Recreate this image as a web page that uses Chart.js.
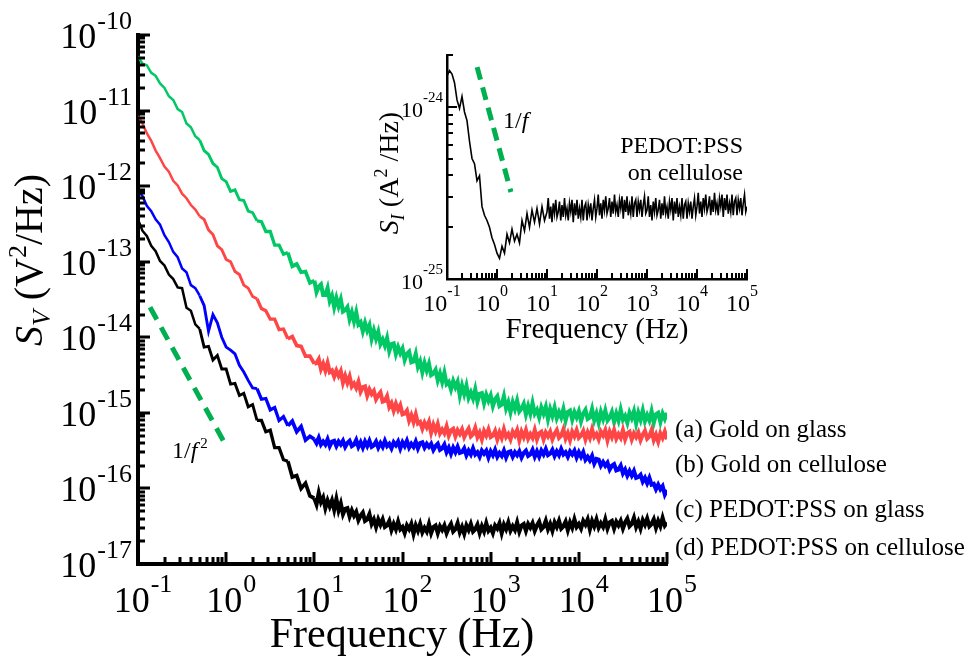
<!DOCTYPE html>
<html>
<head>
<meta charset="utf-8">
<title>Noise spectra</title>
<script src="https://cdn.jsdelivr.net/npm/chart.js@4.4.1/dist/chart.umd.min.js"></script>
<style>
	html, body { margin: 0; padding: 0; background: #fff; }
	#wrap { position: relative; width: 967px; height: 664px; }
	#wrap canvas { position: absolute; left: 0; top: 0; }
</style>
</head>
<body>
<div id="wrap">
	<canvas id="main" width="967" height="664"></canvas>
	<canvas id="inset" width="967" height="664"></canvas>
</div>
<script>
// frequency grid: 20 points per decade below 10 Hz, 40 per decade above, up to 100 kHz
var lowSteps = [1, 1.122, 1.259, 1.413, 1.585, 1.778, 1.995, 2.239, 2.512, 2.818,
	3.162, 3.548, 3.981, 4.467, 5.012, 5.623, 6.310, 7.079, 7.943, 8.913];
var highSteps = [1, 1.059, 1.122, 1.189, 1.259, 1.334, 1.413, 1.496, 1.585, 1.679,
	1.778, 1.884, 1.995, 2.113, 2.239, 2.371, 2.512, 2.661, 2.818, 2.985,
	3.162, 3.350, 3.548, 3.758, 3.981, 4.217, 4.467, 4.732, 5.012, 5.309,
	5.623, 5.957, 6.310, 6.683, 7.079, 7.499, 7.943, 8.414, 8.913, 9.441];
var lowDecades = [0.1, 1];
var highDecades = [10, 100, 1000, 10000];
var lastFreq = 1e5;

// log10 of S_V (V^2/Hz), one value per grid point
var goldGlassLog = [
	-10.28, -10.38, -10.40, -10.50, -10.54, -10.64, -10.70, -10.81, -10.86, -10.98,
	-11.02, -11.17, -11.22, -11.34, -11.39, -11.53, -11.58, -11.70, -11.75, -11.90,
	-11.94, -12.07, -12.05, -12.18, -12.19, -12.33, -12.35, -12.46, -12.47, -12.60,
	-12.60, -12.78, -12.78, -12.90, -12.88, -13.06, -13.03, -13.14, -13.13, -13.28,
	// 10 Hz and up
	-13.25, -13.40, -13.33, -13.30, -13.44, -13.44, -13.35, -13.52, -13.45, -13.60,
	-13.48, -13.59, -13.50, -13.66, -13.64, -13.60, -13.76, -13.67, -13.79, -13.67,
	-13.83, -13.80, -13.92, -13.81, -13.91, -13.84, -14.02, -13.91, -14.02, -13.93,
	-14.09, -14.03, -14.11, -14.01, -14.18, -14.09, -14.08, -14.22, -14.13, -14.21,
	-14.15, -14.30, -14.22, -14.19, -14.33, -14.32, -14.22, -14.39, -14.32, -14.46,
	-14.34, -14.44, -14.35, -14.50, -14.48, -14.43, -14.57, -14.48, -14.59, -14.47,
	-14.62, -14.59, -14.69, -14.58, -14.66, -14.59, -14.77, -14.64, -14.75, -14.64,
	-14.80, -14.73, -14.81, -14.69, -14.85, -14.75, -14.74, -14.87, -14.76, -14.84,
	-14.77, -14.91, -14.82, -14.78, -14.91, -14.89, -14.78, -14.94, -14.86, -14.99,
	-14.86, -14.95, -14.84, -14.98, -14.94, -14.88, -15.02, -14.91, -15.01, -14.87,
	-15.01, -14.96, -15.06, -14.93, -15.01, -14.92, -15.08, -14.95, -15.04, -14.93,
	-15.07, -14.99, -15.06, -14.95, -15.10, -14.99, -14.97, -15.09, -14.99, -15.06,
	-14.98, -15.11, -15.01, -14.96, -15.08, -15.06, -14.95, -15.10, -15.01, -15.13,
	-14.99, -15.08, -14.97, -15.10, -15.06, -14.99, -15.12, -15.01, -15.10, -14.96,
	-15.09, -15.04, -15.13, -15.00, -15.07, -14.98, -15.14, -15.00, -15.09, -14.97,
	-15.11, -15.03, -15.10, -14.98, -15.13, -15.02, -15.00, -15.12, -15.01, -15.08,
	-15.00
];
var goldCelluloseLog = [
	-11.07, -11.17, -11.30, -11.40, -11.53, -11.63, -11.74, -11.81, -11.93, -11.99,
	-12.10, -12.16, -12.25, -12.31, -12.40, -12.44, -12.58, -12.64, -12.79, -12.84,
	-12.97, -13.00, -13.13, -13.17, -13.31, -13.35, -13.46, -13.49, -13.62, -13.65,
	-13.76, -13.76, -13.90, -13.89, -14.02, -13.99, -14.11, -14.12, -14.25, -14.25,
	// 10 Hz and up
	-14.35, -14.34, -14.29, -14.42, -14.35, -14.44, -14.34, -14.46, -14.44, -14.52,
	-14.44, -14.51, -14.45, -14.60, -14.51, -14.60, -14.52, -14.65, -14.61, -14.67,
	-14.59, -14.72, -14.66, -14.65, -14.77, -14.69, -14.75, -14.71, -14.82, -14.77,
	-14.73, -14.85, -14.84, -14.78, -14.92, -14.87, -14.97, -14.88, -14.96, -14.90,
	-15.02, -15.01, -14.97, -15.10, -15.03, -15.12, -15.02, -15.14, -15.12, -15.21,
	-15.13, -15.19, -15.12, -15.26, -15.16, -15.24, -15.15, -15.27, -15.22, -15.27,
	-15.18, -15.30, -15.23, -15.21, -15.31, -15.23, -15.28, -15.22, -15.32, -15.26,
	-15.21, -15.31, -15.28, -15.20, -15.32, -15.26, -15.35, -15.24, -15.30, -15.22,
	-15.32, -15.30, -15.24, -15.35, -15.26, -15.33, -15.22, -15.32, -15.28, -15.35,
	-15.25, -15.30, -15.23, -15.36, -15.25, -15.32, -15.23, -15.34, -15.28, -15.33,
	-15.23, -15.35, -15.27, -15.25, -15.35, -15.26, -15.31, -15.25, -15.35, -15.28,
	-15.23, -15.33, -15.30, -15.22, -15.34, -15.27, -15.36, -15.25, -15.31, -15.23,
	-15.33, -15.30, -15.24, -15.35, -15.26, -15.33, -15.22, -15.32, -15.28, -15.35,
	-15.25, -15.30, -15.23, -15.36, -15.25, -15.32, -15.23, -15.34, -15.28, -15.33,
	-15.23, -15.35, -15.27, -15.25, -15.35, -15.27, -15.32, -15.26, -15.36, -15.29,
	-15.24, -15.34, -15.31, -15.23, -15.36, -15.29, -15.38, -15.27, -15.33, -15.25,
	-15.35
];
var pedotGlassLog = [
	-12.06, -12.13, -12.26, -12.33, -12.44, -12.51, -12.65, -12.74, -12.87, -12.94,
	-13.09, -13.14, -13.31, -13.35, -13.45, -13.58, -13.92, -13.70, -13.81, -14.00,
	-14.13, -14.17, -14.22, -14.37, -14.46, -14.57, -14.67, -14.68, -14.82, -14.81,
	-14.96, -14.93, -15.10, -15.05, -15.17, -15.11, -15.25, -15.18, -15.36, -15.31,
	// 10 Hz and up
	-15.35, -15.40, -15.33, -15.42, -15.38, -15.42, -15.35, -15.44, -15.38, -15.37,
	-15.44, -15.38, -15.42, -15.37, -15.45, -15.40, -15.37, -15.44, -15.42, -15.36,
	-15.45, -15.39, -15.46, -15.38, -15.44, -15.37, -15.45, -15.43, -15.38, -15.46,
	-15.40, -15.45, -15.37, -15.44, -15.41, -15.47, -15.39, -15.43, -15.38, -15.47,
	-15.39, -15.44, -15.37, -15.46, -15.41, -15.45, -15.38, -15.47, -15.40, -15.39,
	-15.46, -15.41, -15.45, -15.41, -15.49, -15.44, -15.41, -15.49, -15.47, -15.42,
	-15.52, -15.46, -15.54, -15.46, -15.52, -15.45, -15.53, -15.52, -15.47, -15.56,
	-15.50, -15.55, -15.47, -15.55, -15.52, -15.58, -15.50, -15.54, -15.50, -15.59,
	-15.51, -15.56, -15.49, -15.58, -15.53, -15.57, -15.50, -15.59, -15.52, -15.51,
	-15.58, -15.52, -15.56, -15.51, -15.59, -15.53, -15.50, -15.57, -15.55, -15.49,
	-15.58, -15.51, -15.58, -15.50, -15.55, -15.48, -15.56, -15.54, -15.49, -15.57,
	-15.51, -15.56, -15.48, -15.55, -15.52, -15.58, -15.51, -15.55, -15.50, -15.59,
	-15.52, -15.58, -15.52, -15.62, -15.58, -15.63, -15.57, -15.67, -15.61, -15.62,
	-15.70, -15.65, -15.70, -15.66, -15.75, -15.70, -15.68, -15.76, -15.75, -15.70,
	-15.80, -15.75, -15.83, -15.77, -15.83, -15.77, -15.86, -15.85, -15.82, -15.91,
	-15.86, -15.93, -15.86, -15.95, -15.94, -16.01, -15.95, -16.01, -15.97, -16.08,
	-16.02
];
var pedotCelluloseLog = [
	-12.44, -12.59, -12.66, -12.79, -12.86, -12.99, -13.05, -13.17, -13.23, -13.34,
	-13.35, -13.61, -13.65, -13.83, -13.89, -14.13, -14.12, -14.30, -14.24, -14.42,
	-14.42, -14.62, -14.61, -14.77, -14.74, -14.92, -14.89, -15.10, -15.10, -15.25,
	-15.23, -15.46, -15.46, -15.62, -15.64, -15.85, -15.83, -16.00, -15.93, -16.10,
	// 10 Hz and up
	-16.13, -16.21, -16.06, -16.18, -16.12, -16.26, -16.16, -16.24, -16.16, -16.28,
	-16.14, -16.29, -16.20, -16.34, -16.27, -16.26, -16.37, -16.29, -16.36, -16.31,
	-16.42, -16.36, -16.32, -16.43, -16.41, -16.34, -16.47, -16.41, -16.51, -16.41,
	-16.48, -16.41, -16.51, -16.49, -16.43, -16.55, -16.47, -16.54, -16.44, -16.54,
	-16.51, -16.59, -16.49, -16.54, -16.47, -16.60, -16.49, -16.56, -16.47, -16.58,
	-16.52, -16.57, -16.47, -16.59, -16.51, -16.49, -16.59, -16.50, -16.55, -16.49,
	-16.59, -16.52, -16.47, -16.57, -16.54, -16.46, -16.58, -16.51, -16.60, -16.49,
	-16.55, -16.47, -16.57, -16.54, -16.48, -16.59, -16.50, -16.57, -16.46, -16.56,
	-16.52, -16.59, -16.49, -16.53, -16.46, -16.59, -16.48, -16.54, -16.45, -16.56,
	-16.50, -16.55, -16.45, -16.57, -16.49, -16.47, -16.56, -16.47, -16.52, -16.46,
	-16.56, -16.49, -16.44, -16.54, -16.51, -16.43, -16.54, -16.47, -16.56, -16.45,
	-16.51, -16.43, -16.53, -16.50, -16.44, -16.55, -16.45, -16.52, -16.41, -16.51,
	-16.47, -16.53, -16.43, -16.48, -16.41, -16.54, -16.43, -16.50, -16.41, -16.52,
	-16.46, -16.51, -16.41, -16.53, -16.45, -16.43, -16.53, -16.44, -16.49, -16.43,
	-16.53, -16.45, -16.40, -16.50, -16.47, -16.39, -16.51, -16.44, -16.53, -16.42,
	-16.48, -16.40, -16.50, -16.47, -16.41, -16.52, -16.43, -16.50, -16.39, -16.49,
	-16.45
];

// log10 of S_I (A^2/Hz) for the inset, PEDOT:PSS on cellulose
var insetLog = [
	-23.82, -23.79, -23.81, -23.86, -23.96, -24.01, -23.94, -24.03, -24.08, -24.20,
	-24.30, -24.33, -24.43, -24.40, -24.58, -24.63, -24.66, -24.70, -24.76, -24.80,
	-24.85, -24.88, -24.81, -24.85, -24.74, -24.79, -24.71, -24.78, -24.74, -24.79,
	-24.66, -24.72, -24.62, -24.70, -24.60, -24.67, -24.59, -24.68, -24.58, -24.66,
	// 10 Hz and up
	-24.61, -24.53, -24.65, -24.58, -24.67, -24.56, -24.62, -24.54, -24.64, -24.61,
	-24.55, -24.66, -24.57, -24.64, -24.53, -24.63, -24.59, -24.66, -24.56, -24.61,
	-24.54, -24.67, -24.56, -24.63, -24.54, -24.65, -24.59, -24.64, -24.54, -24.66,
	-24.58, -24.56, -24.66, -24.57, -24.62, -24.56, -24.66, -24.59, -24.54, -24.64,
	-24.59, -24.51, -24.63, -24.56, -24.65, -24.54, -24.60, -24.52, -24.62, -24.59,
	-24.53, -24.64, -24.55, -24.62, -24.51, -24.61, -24.57, -24.64, -24.54, -24.59,
	-24.52, -24.65, -24.54, -24.61, -24.52, -24.63, -24.57, -24.62, -24.52, -24.64,
	-24.56, -24.54, -24.64, -24.55, -24.60, -24.54, -24.64, -24.57, -24.52, -24.62,
	-24.60, -24.52, -24.64, -24.57, -24.66, -24.55, -24.61, -24.53, -24.63, -24.60,
	-24.54, -24.65, -24.56, -24.63, -24.52, -24.62, -24.58, -24.65, -24.55, -24.60,
	-24.53, -24.66, -24.55, -24.62, -24.53, -24.64, -24.58, -24.63, -24.53, -24.65,
	-24.57, -24.55, -24.65, -24.56, -24.61, -24.55, -24.65, -24.58, -24.53, -24.63,
	-24.58, -24.50, -24.62, -24.55, -24.64, -24.53, -24.59, -24.51, -24.61, -24.58,
	-24.52, -24.63, -24.54, -24.61, -24.50, -24.60, -24.56, -24.63, -24.53, -24.58,
	-24.51, -24.64, -24.53, -24.60, -24.51, -24.62, -24.56, -24.61, -24.51, -24.63,
	-24.55, -24.53, -24.63, -24.54, -24.59, -24.53, -24.63, -24.56, -24.51, -24.61,
	-24.58
];

// slope guides
var guideFreq = [0.137, 0.97];
var guideSV = [2.5e-14, 3.9e-16];
var insetGuideFreq = [0.4, 1.9];
var insetGuideSI = [1.7e-24, 3.2e-25];

// tick label exponents
var xDecades = [-1, 0, 1, 2, 3, 4, 5];
var yDecades = [-10, -11, -12, -13, -14, -15, -16, -17];
var insetYDecades = [-24, -25];

var seriesNames = ['(a) Gold on glass', '(b) Gold on cellulose', '(c) PEDOT:PSS on glass', '(d) PEDOT:PSS on cellulose'];

var SERIF = '"Liberation Serif", "Times New Roman", serif';

var freq = [];
lowDecades.forEach(function (d) {
	lowSteps.forEach(function (m) { freq.push(+(m * d).toPrecision(4)); });
});
highDecades.forEach(function (d) {
	highSteps.forEach(function (m) { freq.push(+(m * d).toPrecision(4)); });
});
freq.push(lastFreq);

function toPoints(logs) {
	return logs.map(function (v, i) { return {x: freq[i], y: Math.pow(10, v)}; });
}

function pairPoints(xs, ys) {
	return xs.map(function (x, i) { return {x: x, y: ys[i]}; });
}

function font(size, italic) {
	return (italic ? 'italic ' : '') + size + 'px ' + SERIF;
}

function eachLogTick(min, max, fn) {
	var lo = Math.floor(Math.log10(min) + 1e-9);
	var hi = Math.ceil(Math.log10(max) - 1e-9);
	for (var d = lo; d <= hi; d++) {
		for (var m = 1; m < 10; m++) {
			var v = m * Math.pow(10, d);
			if (v < min * 0.999 || v > max * 1.001) continue;
			fn(v, m === 1);
		}
	}
}

function powerWidth(ctx, exp, s) {
	ctx.font = font(s.base);
	var w = ctx.measureText('10').width;
	ctx.font = font(s.sup);
	return w + s.gap + ctx.measureText(String(exp)).width;
}

function drawPower(ctx, exp, x, y, s) {
	ctx.font = font(s.base);
	ctx.fillText('10', x, y);
	var w = ctx.measureText('10').width;
	ctx.font = font(s.sup);
	ctx.fillText(String(exp), x + w + s.gap, y - s.rise);
}

// mixed style text: runs of {t, size, italic, dy}
function runsWidth(ctx, runs) {
	return runs.reduce(function (w, r) {
		ctx.font = font(r.size, r.italic);
		return w + ctx.measureText(r.t).width;
	}, 0);
}

function drawRuns(ctx, runs, x, y) {
	runs.forEach(function (r) {
		ctx.font = font(r.size, r.italic);
		ctx.fillText(r.t, x, y + (r.dy || 0));
		x += ctx.measureText(r.t).width;
	});
}

var logTicks = {
	id: 'logTicks',
	afterDatasetsDraw: function (chart, args, o) {
		var ctx = chart.ctx, area = chart.chartArea;
		var xs = chart.scales.x, ys = chart.scales.y;
		ctx.save();
		ctx.strokeStyle = '#000';
		ctx.lineWidth = o.tickWidth;
		ctx.beginPath();
		eachLogTick(xs.min, xs.max, function (v, major) {
			var px = Math.round(xs.getPixelForValue(v));
			ctx.moveTo(px, area.bottom);
			ctx.lineTo(px, area.bottom - (major ? o.major : o.minor));
		});
		eachLogTick(ys.min, ys.max, function (v, major) {
			var py = Math.round(ys.getPixelForValue(v));
			ctx.moveTo(area.left, py);
			ctx.lineTo(area.left + (major ? o.major : o.minor), py);
		});
		ctx.stroke();

		ctx.fillStyle = '#000';
		ctx.textBaseline = 'alphabetic';
		ctx.textAlign = 'left';
		o.xExps.forEach(function (e) {
			var px = xs.getPixelForValue(Math.pow(10, e));
			var w = powerWidth(ctx, e, o.xSizes);
			drawPower(ctx, e, px + o.xShift - w / 2, o.xBaseline, o.xSizes);
		});
		o.yExps.forEach(function (e) {
			var py = ys.getPixelForValue(Math.pow(10, e));
			var w = powerWidth(ctx, e, o.ySizes);
			drawPower(ctx, e, o.yRight - w, py + o.yDrop, o.ySizes);
		});
		ctx.restore();
	}
};

var notes = {
	id: 'notes',
	afterDraw: function (chart, args, o) {
		var ctx = chart.ctx;
		ctx.save();
		ctx.fillStyle = '#000';
		ctx.textBaseline = 'alphabetic';
		ctx.textAlign = 'left';
		o.items.forEach(function (it) {
			var w = runsWidth(ctx, it.runs);
			var start = it.align === 'center' ? -w / 2 : it.align === 'right' ? -w : 0;
			if (it.rotate) {
				ctx.save();
				ctx.translate(it.x, it.y);
				ctx.rotate(-Math.PI / 2);
				drawRuns(ctx, it.runs, start, 0);
				ctx.restore();
			} else {
				drawRuns(ctx, it.runs, it.x + start, it.y);
			}
		});
		ctx.restore();
	}
};

function plain(t, size) { return [{t: t, size: size}]; }

function logAxis(min, max, border) {
	return {
		type: 'logarithmic',
		min: min,
		max: max,
		grid: {display: false, drawTicks: false},
		ticks: {display: false},
		border: {display: true, width: border, color: '#000'}
	};
}

// the noisy part of each trace is drawn heavier, growing with frequency
function traceWidth(c) {
	var f = c.p0.parsed.x;
	if (f < 0.5) return 2.5;
	if (f < 2) return 2.9;
	if (f < 5) return 3.3;
	if (f < 10) return 3.7;
	return 4.1;
}

function trace(label, logs, color) {
	return {
		label: label,
		data: toPoints(logs),
		borderColor: color,
		borderWidth: 2.5,
		pointRadius: 0,
		tension: 0,
		fill: false,
		segment: {borderWidth: traceWidth}
	};
}

var guideGreen = '#00b050';

new Chart(document.getElementById('main'), {
	type: 'line',
	data: {
		datasets: [
			{
				label: '1/f2',
				data: pairPoints(guideFreq, guideSV),
				borderColor: guideGreen,
				borderWidth: 5,
				borderDash: [14, 9],
				borderCapStyle: 'butt',
				pointRadius: 0
			},
			trace(seriesNames[3], pedotCelluloseLog, '#000000'),
			trace(seriesNames[2], pedotGlassLog, '#0000ff'),
			trace(seriesNames[1], goldCelluloseLog, '#ff4646'),
			trace(seriesNames[0], goldGlassLog, '#00c864')
		]
	},
	options: {
		responsive: false,
		animation: false,
		layout: {padding: {left: 138, right: 300, top: 35, bottom: 100}},
		scales: {
			x: logAxis(0.1, 1e5, 4),
			y: logAxis(1e-17, 1e-10, 4)
		},
		plugins: {
			legend: {display: false},
			tooltip: {enabled: false},
			logTicks: {
				tickWidth: 3, major: 12, minor: 7,
				xExps: xDecades, xShift: 5, xBaseline: 612,
				xSizes: {base: 36, sup: 26, gap: 1, rise: 20},
				yExps: yDecades, yRight: 132, yDrop: 13,
				ySizes: {base: 36, sup: 26, gap: 1, rise: 19}
			},
			notes: {
				items: [
					{x: 42, y: 260, rotate: true, align: 'center', runs: [
						{t: 'S', size: 40, italic: true},
						{t: 'V', size: 26, italic: true, dy: 8},
						{t: ' (V', size: 40},
						{t: '2', size: 26, dy: -16},
						{t: '/Hz)', size: 40}
					]},
					{x: 402, y: 647, align: 'center', runs: plain('Frequency (Hz)', 42)},
					{x: 675, y: 437, runs: plain(seriesNames[0], 25)},
					{x: 675, y: 472, runs: plain(seriesNames[1], 25)},
					{x: 675, y: 517, runs: plain(seriesNames[2], 25)},
					{x: 675, y: 555, runs: plain(seriesNames[3], 25)},
					{x: 172, y: 458, runs: [
						{t: '1/', size: 24},
						{t: 'f', size: 24, italic: true},
						{t: ' ', size: 12},
						{t: '2', size: 15, dy: -10}
					]}
				]
			}
		}
	},
	plugins: [logTicks, notes]
});

new Chart(document.getElementById('inset'), {
	type: 'line',
	data: {
		datasets: [
			{
				label: '1/f',
				data: pairPoints(insetGuideFreq, insetGuideSI),
				borderColor: guideGreen,
				borderWidth: 5,
				borderDash: [13, 8],
				borderCapStyle: 'butt',
				pointRadius: 0
			},
			{
				label: seriesNames[3],
				data: toPoints(insetLog),
				borderColor: '#000000',
				borderWidth: 1.6,
				pointRadius: 0,
				tension: 0,
				fill: false
			}
		]
	},
	options: {
		responsive: false,
		animation: false,
		layout: {padding: {left: 447, right: 220, top: 55, bottom: 385}},
		scales: {
			x: logAxis(0.1, 1e5, 2.5),
			y: logAxis(1e-25, 2e-24, 2.5)
		},
		plugins: {
			legend: {display: false},
			tooltip: {enabled: false},
			logTicks: {
				tickWidth: 2, major: 10, minor: 6,
				xExps: xDecades, xShift: -5, xBaseline: 311,
				xSizes: {base: 24, sup: 16, gap: 0, rise: 15},
				yExps: insetYDecades, yRight: 443, yDrop: 10,
				ySizes: {base: 22, sup: 15, gap: 0, rise: 15}
			},
			notes: {
				items: [
					{x: 398, y: 173, rotate: true, align: 'center', runs: [
						{t: 'S', size: 28, italic: true},
						{t: 'I', size: 18, italic: true, dy: 6},
						{t: ' (A', size: 28},
						{t: '2', size: 18, dy: -11},
						{t: ' /Hz)', size: 28}
					]},
					{x: 597, y: 338, align: 'center', runs: plain('Frequency (Hz)', 29)},
					{x: 743, y: 153, align: 'right', runs: plain('PEDOT:PSS', 24)},
					{x: 743, y: 180, align: 'right', runs: plain('on cellulose', 24)},
					{x: 503, y: 128, runs: [
						{t: '1/', size: 24},
						{t: 'f', size: 24, italic: true}
					]}
				]
			}
		}
	},
	plugins: [logTicks, notes]
});
</script>
</body>
</html>
